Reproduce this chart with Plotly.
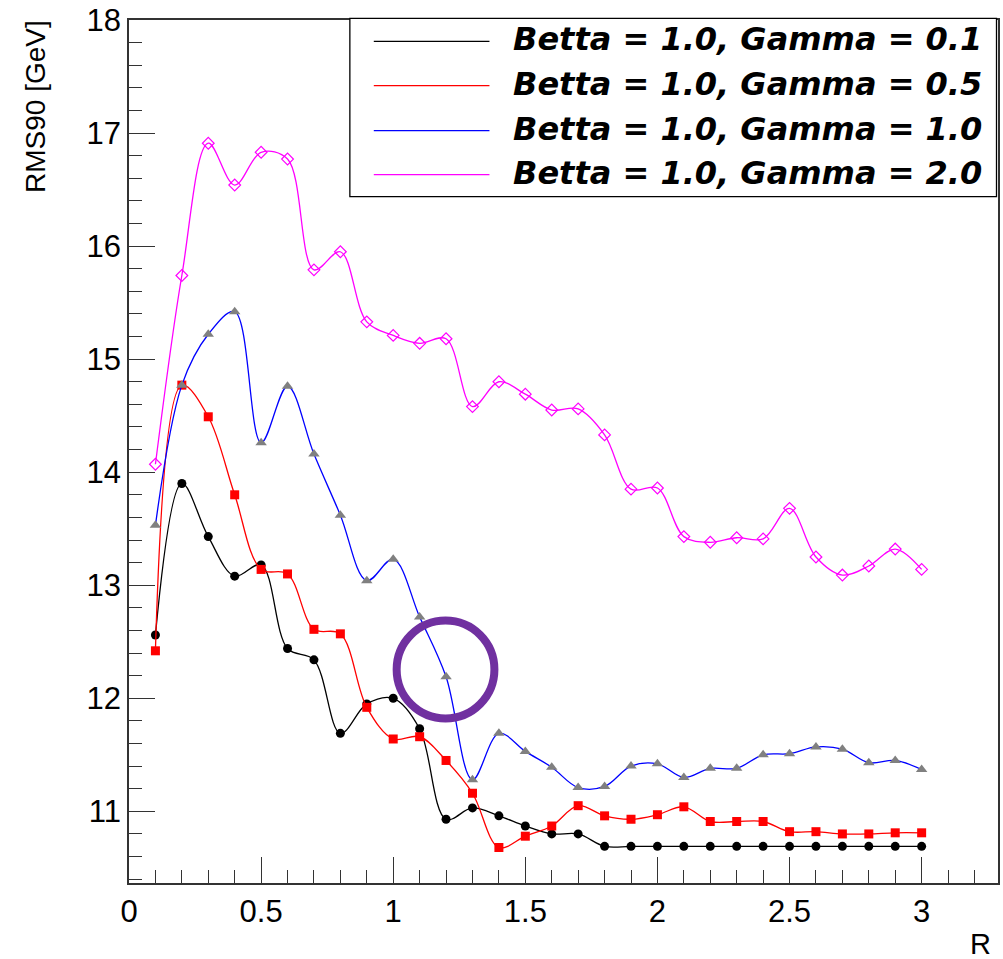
import plotly.graph_objects as go

# Cone radius R scanned from 0.1 to 3.0
r_values = [0.1, 0.2, 0.3, 0.4, 0.5, 0.6, 0.7, 0.8, 0.9, 1.0,
            1.1, 1.2, 1.3, 1.4, 1.5, 1.6, 1.7, 1.8, 1.9, 2.0,
            2.1, 2.2, 2.3, 2.4, 2.5, 2.6, 2.7, 2.8, 2.9, 3.0]

# RMS90 [GeV] for each (Betta, Gamma) setting
rms_g01 = [12.56, 13.90, 13.43, 13.08, 13.18, 12.44, 12.34, 11.69, 11.95, 12.00,
           11.73, 10.93, 11.03, 10.96, 10.87, 10.80, 10.80, 10.69, 10.69, 10.69,
           10.69, 10.69, 10.69, 10.69, 10.69, 10.69, 10.69, 10.69, 10.69, 10.69]
rms_g05 = [12.42, 14.77, 14.49, 13.80, 13.14, 13.10, 12.61, 12.57, 11.92, 11.64,
           11.66, 11.45, 11.16, 10.68, 10.78, 10.87, 11.05, 10.96, 10.93, 10.97,
           11.04, 10.91, 10.91, 10.91, 10.82, 10.82, 10.80, 10.80, 10.81, 10.81]
rms_g10 = [13.53, 14.77, 15.22, 15.42, 14.26, 14.76, 14.16, 13.62, 13.04, 13.23,
           12.72, 12.19, 11.28, 11.69, 11.53, 11.39, 11.21, 11.22, 11.40, 11.42,
           11.30, 11.38, 11.38, 11.50, 11.51, 11.57, 11.55, 11.43, 11.45, 11.37]
rms_g20 = [14.07, 15.74, 16.91, 16.54, 16.83, 16.77, 15.79, 15.95, 15.33, 15.21,
           15.14, 15.18, 14.58, 14.80, 14.69, 14.55, 14.56, 14.33, 13.85, 13.86,
           13.43, 13.38, 13.42, 13.41, 13.68, 13.25, 13.09, 13.17, 13.32, 13.14]

series_names = ["Betta = 1.0, Gamma = 0.1", "Betta = 1.0, Gamma = 0.5",
                "Betta = 1.0, Gamma = 1.0", "Betta = 1.0, Gamma = 2.0"]

x_range = [0, 3.289]
y_range = [10.366, 18]

W, H = 1003, 959
ML, MR, MT, MB = 128.5, 3, 19.3, 76.3
PW, PH = W - ML - MR, H - MT - MB


def px_x(px):
    return (px - ML) / PW


def px_y(py):
    return 1 - (py - MT) / PH


styles = [
    dict(y=rms_g01, line="black", marker=dict(symbol="circle", color="black", size=9)),
    dict(y=rms_g05, line="#ff0000", marker=dict(symbol="square", color="#ff0000", size=9)),
    dict(y=rms_g10, line="#0000ff", marker=dict(symbol="triangle-up", color="#808080", size=10)),
    dict(y=rms_g20, line="#ff00ff", marker=dict(symbol="diamond-open", color="#ff00ff", size=9,
                                                  line=dict(width=1.2, color="#ff00ff"))),
]

fig = go.Figure()
for name, st in zip(series_names, styles):
    fig.add_trace(go.Scatter(
        x=r_values, y=st["y"], name=name, mode="lines+markers",
        line=dict(color=st["line"], width=1.3, shape="spline", smoothing=1.0),
        marker=st["marker"], showlegend=False,
    ))

tick_font = dict(family="Liberation Sans, Arial, sans-serif", size=31, color="black")

fig.update_xaxes(
    range=x_range, tick0=0, dtick=0.5, ticks="inside", ticklen=26, tickwidth=1.3,
    tickcolor="#333", showline=True, linecolor="#333", linewidth=1.5, mirror=True,
    showgrid=False, zeroline=False, tickfont=tick_font,
    minor=dict(dtick=0.1, tick0=0, ticks="inside", ticklen=13, tickwidth=1.3, tickcolor="#333"),
)
fig.update_yaxes(
    range=y_range, tick0=10, dtick=1, ticks="inside", ticklen=26, tickwidth=1.3,
    tickcolor="#333", showline=True, linecolor="#333", linewidth=1.5, mirror=True,
    showgrid=False, zeroline=False, tickfont=tick_font,
    minor=dict(dtick=0.2, tick0=10, ticks="inside", ticklen=13, tickwidth=1.3, tickcolor="#333"),
)

shapes = []
annotations = []

# Highlight ring around the R = 1.2 region
shapes.append(dict(type="circle", xref="x", yref="y",
                   x0=1.013, x1=1.383, y0=11.822, y1=12.688,
                   line=dict(color="#7030a0", width=8)))

# Legend box
shapes.append(dict(type="rect", xref="paper", yref="paper",
                   x0=px_x(350), x1=px_x(998.5), y0=px_y(196), y1=px_y(17.7),
                   line=dict(color="black", width=1.3), fillcolor="white", layer="above"))

legend_rows = [40.7, 85, 130, 174]
legend_font = dict(family="DejaVu Sans", size=32, color="black", weight="bold", style="italic")
for name, st, py in zip(series_names, styles, legend_rows):
    shapes.append(dict(type="line", xref="paper", yref="paper",
                       x0=px_x(374), x1=px_x(490), y0=px_y(py), y1=px_y(py),
                       line=dict(color=st["line"], width=1.3), layer="above"))
    annotations.append(dict(text=name, xref="paper", yref="paper", x=px_x(512), y=px_y(py - 2),
                            xanchor="left", yanchor="middle", showarrow=False, font=legend_font))

# Axis titles placed at the far ends of the axes
annotations.append(dict(text="RMS90 [GeV]", xref="paper", yref="paper",
                        x=px_x(34), y=px_y(17), xanchor="center", yanchor="top",
                        textangle=-90, showarrow=False,
                        font=dict(family="Liberation Sans, Arial", size=28, color="black")))
annotations.append(dict(text="R", xref="paper", yref="paper",
                        x=px_x(995), y=px_y(944), xanchor="right", yanchor="middle",
                        showarrow=False,
                        font=dict(family="Liberation Sans, Arial", size=29, color="black")))

fig.update_layout(
    width=W, height=H, autosize=False,
    margin=dict(l=ML, r=MR, t=MT, b=MB, pad=0),
    paper_bgcolor="white", plot_bgcolor="white",
    shapes=shapes, annotations=annotations, showlegend=False,
)

fig.write_html("out.html")
